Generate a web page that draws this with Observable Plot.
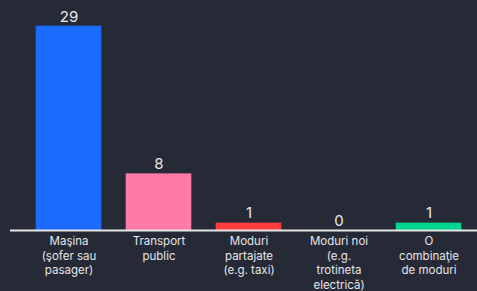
<!DOCTYPE html>
<html>
<head>
<meta charset="utf-8">
<script src="https://cdn.jsdelivr.net/npm/d3@7"></script>
<script src="https://cdn.jsdelivr.net/npm/@observablehq/plot@0.6"></script>
<style>
  html, body { margin: 0; padding: 0; background: #252a36; }
  #chart svg { display: block; }
</style>
</head>
<body>
<div id="chart"></div>
<script>
const categories = ["Maşina", "Transport public", "Moduri partajate", "Moduri noi", "O combinaţie de moduri"];
const tickLabels = [
  "Maşina\n(şofer sau\npasager)",
  "Transport\npublic",
  "Moduri\npartajate\n(e.g. taxi)",
  "Moduri noi\n(e.g.\ntrotineta\nelectrică)",
  "O\ncombinaţie\nde moduri"
];
const values = [29, 8, 1, 0, 1];
const colors = ["#1b6bfe", "#ff7aa6", "#ff3d3d", "#8a8a8a", "#00d58f"];

const data = categories.map((c, i) => ({cat: c, label: tickLabels[i], value: values[i], color: colors[i]}));

const chart = Plot.plot({
  width: 477,
  height: 291,
  marginLeft: 36,
  marginRight: 16,
  marginTop: 26,
  marginBottom: 61,
  style: {background: "#252a36", color: "#e6e6e6", fontFamily: "Inter, 'Noto Sans', sans-serif"},
  x: {domain: categories, paddingInner: 25 / 90, paddingOuter: 0, axis: null},
  y: {domain: [0, 29], axis: null},
  marks: [
    Plot.barY(data, {x: "cat", y: "value", fill: "color", stroke: "color", strokeOpacity: 0.6}),
    Plot.ruleY([0], {stroke: "#e6e6e6", strokeWidth: 2, insetLeft: -26, insetRight: -16}),
    Plot.text(data, {x: "cat", y: "value", text: d => String(d.value), lineAnchor: "bottom", dy: -5, fontSize: 15, fill: "#e8e8e8"}),
    Plot.text(data, {x: "cat", y: 0, text: "label", lineAnchor: "top", dy: 4, fontSize: 11.5, lineHeight: 1.28, fill: "#e6e6e6"})
  ]
});
document.getElementById("chart").append(chart);
</script>
</body>
</html>
